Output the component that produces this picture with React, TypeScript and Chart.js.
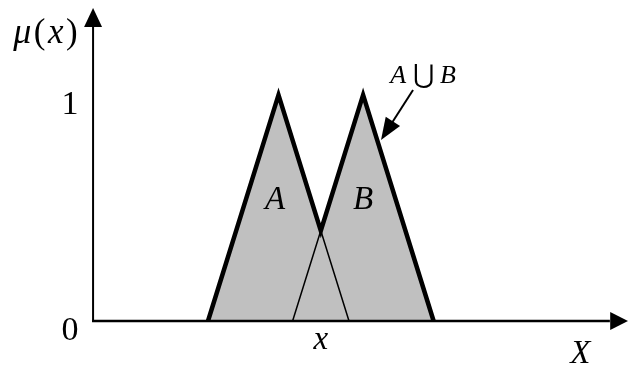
import { useEffect, useRef } from "react";
import { Chart, registerables } from "chart.js";

Chart.register(...registerables);

// Membership functions (universe units)
const setAX = [0, 1, 2];
const setAY = [0, 1, 0];
const setBX = [1.2, 2.2, 3.2];
const setBY = [0, 1, 0];
// Union A ∪ B = max(A, B)
const unionX = [0, 1, 1.6, 2.2, 3.2];
const unionY = [0, 1, 0.4, 1, 0];
// Tick labels on the membership axis
const yTickValues = [0, 1];
const yTickLabels = ["0", "1"];

const toPts = (xs: number[], ys: number[]) => xs.map((x, i) => ({ x, y: ys[i] }));

const SERIF = '"Liberation Serif", "Times New Roman", serif';

function drawRuns(ctx: CanvasRenderingContext2D, runs: [string, string][], cx: number, baseY: number, gap = 0) {
  let total = 0;
  const widths = runs.map(([t, f]) => {
    ctx.font = f;
    const w = ctx.measureText(t).width;
    total += w;
    return w;
  });
  total += gap * (runs.length - 1);
  let x = cx - total / 2;
  ctx.textAlign = "left";
  ctx.textBaseline = "alphabetic";
  runs.forEach(([t, f], i) => {
    ctx.font = f;
    ctx.fillText(t, x, baseY);
    x += widths[i] + gap;
  });
}

function arrowHead(ctx: CanvasRenderingContext2D, tx: number, ty: number, ang: number, len: number, half: number) {
  ctx.save();
  ctx.translate(tx, ty);
  ctx.rotate(ang);
  ctx.beginPath();
  ctx.moveTo(0, 0);
  ctx.lineTo(-len, -half);
  ctx.lineTo(-len, half);
  ctx.closePath();
  ctx.fill();
  ctx.restore();
}

const decorPlugin = {
  id: "decor",
  afterDatasetsDraw(chart: any) {
    const ctx: CanvasRenderingContext2D = chart.ctx;
    const xs = chart.scales.x;
    const ys = chart.scales.y;
    const px = (v: number) => xs.getPixelForValue(v);
    const py = (v: number) => ys.getPixelForValue(v);
    const axisX = -1.63;
    const x0 = px(axisX);
    const y0 = py(0);
    ctx.save();
    ctx.strokeStyle = "#000";
    ctx.fillStyle = "#000";
    // y axis
    ctx.lineWidth = 2;
    ctx.beginPath();
    ctx.moveTo(x0, y0 + 1);
    ctx.lineTo(x0, py(1.31));
    ctx.stroke();
    arrowHead(ctx, x0, py(1.385), -Math.PI / 2, 19, 9);
    // x axis
    ctx.lineWidth = 2.5;
    ctx.beginPath();
    ctx.moveTo(x0 - 1, y0);
    ctx.lineTo(px(5.7), y0);
    ctx.stroke();
    arrowHead(ctx, px(5.96), y0, 0, 18, 9);

    // tick labels
    ctx.font = `34px ${SERIF}`;
    ctx.textAlign = "center";
    ctx.textBaseline = "alphabetic";
    yTickValues.forEach((v, i) => {
      ctx.fillText(yTickLabels[i], x0 - 23, py(v) + 19);
    });

    // axis titles
    drawRuns(
      ctx,
      [
        ["μ", `italic 36px ${SERIF}`],
        ["(", `35px ${SERIF}`],
        ["x", `italic 35px ${SERIF}`],
        [")", `35px ${SERIF}`],
      ],
      px(-2.305),
      py(1.23),
      2.5
    );
    ctx.textAlign = "center";
    ctx.textBaseline = "alphabetic";
    ctx.font = `italic 33px ${SERIF}`;
    ctx.fillText("X", px(5.28), y0 + 42);
    ctx.font = `italic 33px ${SERIF}`;
    ctx.fillText("x", px(1.6), y0 + 28);

    // set labels
    ctx.fillText("A", px(0.95), py(0.495));
    ctx.fillText("B", px(2.2), py(0.495));

    // union annotation
    drawRuns(
      ctx,
      [
        ["A", `italic 26px ${SERIF}`],
        [" ⋃ ", `26px ${SERIF}`],
        ["B", `italic 26px ${SERIF}`],
      ],
      px(3.05),
      py(1.053)
    );
    const sx = px(2.908), sy = py(1.022);
    const tx = px(2.454), ty = py(0.801);
    const ang = Math.atan2(ty - sy, tx - sx);
    ctx.lineWidth = 2;
    ctx.beginPath();
    ctx.moveTo(sx, sy);
    ctx.lineTo(tx - Math.cos(ang) * 15, ty - Math.sin(ang) * 15);
    ctx.stroke();
    arrowHead(ctx, tx, ty, ang, 22, 8.5);
    ctx.restore();
  },
};

export default function App() {
  const ref = useRef<HTMLCanvasElement>(null);
  useEffect(() => {
    document.body.style.margin = "0";
    const chart = new Chart(ref.current!, {
      type: "scatter",
      data: {
        datasets: [
          {
            label: "A ∪ B",
            data: toPts(unionX, unionY),
            showLine: true,
            fill: "origin",
            backgroundColor: "#c0c0c0",
            borderColor: "#000",
            borderWidth: 4.5,
            borderJoinStyle: "miter",
            pointRadius: 0,
            order: 3,
          } as any,
          {
            label: "A",
            data: toPts(setAX, setAY),
            showLine: true,
            fill: false,
            borderColor: "#000",
            borderWidth: 1.5,
            pointRadius: 0,
            order: 1,
          },
          {
            label: "B",
            data: toPts(setBX, setBY),
            showLine: true,
            fill: false,
            borderColor: "#000",
            borderWidth: 1.5,
            pointRadius: 0,
            order: 1,
          },
        ],
      },
      options: {
        responsive: false,
        animation: false,
        devicePixelRatio: 1,
        layout: { padding: 0 },
        plugins: {
          legend: { display: false },
          tooltip: { enabled: false },
          filler: { drawTime: "beforeDatasetsDraw" },
        } as any,
        scales: {
          x: { type: "linear", display: false, min: -2.95, max: 5.957 },
          y: { type: "linear", display: false, min: -0.2035, max: 1.42 },
        },
      },
      plugins: [decorPlugin],
    });
    const redraw = () => {
      try {
        chart.draw();
      } catch (e) {}
    };
    const fonts = [`34px "Liberation Serif"`, `italic 34px "Liberation Serif"`];
    Promise.all(fonts.map((f) => (document as any).fonts.load(f, "Aμx(B01X")))
      .then(redraw)
      .catch(() => {});
    (document as any).fonts.ready.then(redraw);
    const t1 = setTimeout(redraw, 100);
    const t2 = setTimeout(redraw, 400);
    return () => {
      clearTimeout(t1);
      clearTimeout(t2);
      chart.destroy();
    };
  }, []);
  return (
    <div style={{ position: "absolute", left: 0, top: 0, width: 628, height: 367, background: "#fff", overflow: "hidden" }}>
      <canvas ref={ref} width={628} height={367} />
      <span style={{ position: "absolute", left: -9999, top: 0, fontFamily: "Liberation Serif" }}>01(</span>
      <span style={{ position: "absolute", left: -9999, top: 0, fontFamily: "Liberation Serif", fontStyle: "italic" }}>AμxBX</span>
    </div>
  );
}
